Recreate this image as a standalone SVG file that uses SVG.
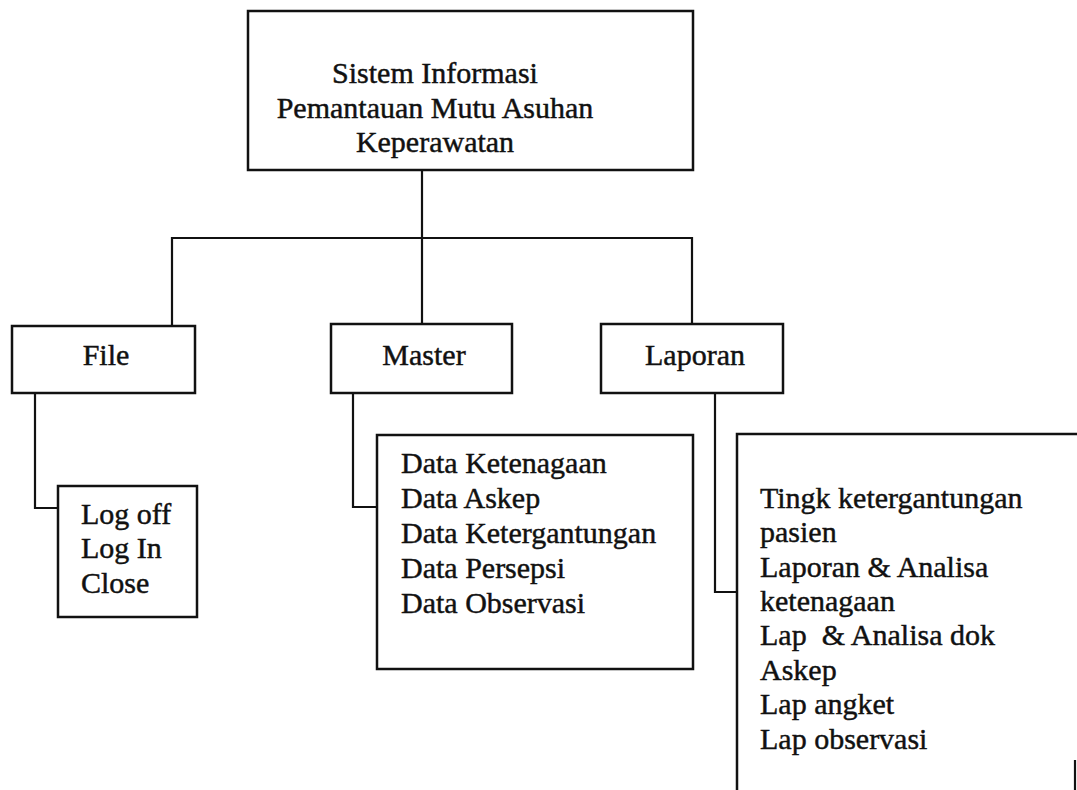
<svg xmlns="http://www.w3.org/2000/svg" width="1077" height="790" viewBox="0 0 1077 790">
  <style>
    .box { fill: none; stroke: #111; stroke-width: 2.5; }
    .wire { fill: none; stroke: #111; stroke-width: 2.2; }
    .lbl { font-family: "Liberation Serif", "Times New Roman", serif; font-size: 30px; fill: #111; stroke: #111; stroke-width: 0.45; }
    .mid { text-anchor: middle; }
  </style>
  <rect width="1077" height="790" fill="#ffffff"/>

  <!-- connectors -->
  <g id="connectors">
    <path class="wire" d="M422,170 V238"/>
    <path class="wire" d="M172,326 V238 H692 V324"/>
    <path class="wire" d="M422,238 V324"/>
    <path class="wire" d="M35,393 V508 H58"/>
    <path class="wire" d="M353,393 V507 H377"/>
    <path class="wire" d="M715,393 V592 H737"/>
  </g>

  <!-- root -->
  <g id="root">
    <rect class="box" x="248" y="11" width="445" height="159"/>
    <text class="lbl mid" x="435" y="83">Sistem Informasi</text>
    <text class="lbl mid" x="435" y="118">Pemantauan Mutu Asuhan</text>
    <text class="lbl mid" x="435" y="152">Keperawatan</text>
  </g>

  <!-- menu level -->
  <g id="file">
    <rect class="box" x="12" y="326" width="183" height="67"/>
    <text class="lbl mid" x="106" y="365">File</text>
  </g>
  <g id="master">
    <rect class="box" x="331" y="324" width="181" height="69"/>
    <text class="lbl mid" x="424" y="365">Master</text>
  </g>
  <g id="laporan">
    <rect class="box" x="601" y="324" width="182" height="69"/>
    <text class="lbl mid" x="695" y="365">Laporan</text>
  </g>

  <!-- sub menus -->
  <g id="file-items">
    <rect class="box" x="58" y="486" width="139" height="131"/>
    <text class="lbl" x="81" y="524">Log off</text>
    <text class="lbl" x="81" y="558">Log In</text>
    <text class="lbl" x="81" y="593">Close</text>
  </g>
  <g id="master-items">
    <rect class="box" x="377" y="435" width="316" height="234"/>
    <text class="lbl" x="401" y="473">Data Ketenagaan</text>
    <text class="lbl" x="401" y="508">Data Askep</text>
    <text class="lbl" x="401" y="543">Data Ketergantungan</text>
    <text class="lbl" x="401" y="578">Data Persepsi</text>
    <text class="lbl" x="401" y="613">Data Observasi</text>
  </g>
  <g id="laporan-items">
    <path class="box" d="M1077,434 H737 V792"/>
    <path class="wire" d="M1075,760 V792" stroke-width="1.2"/>
    <text class="lbl" x="760" y="508">Tingk ketergantungan</text>
    <text class="lbl" x="760" y="542">pasien</text>
    <text class="lbl" x="760" y="577">Laporan &amp; Analisa</text>
    <text class="lbl" x="760" y="611">ketenagaan</text>
    <text class="lbl" x="760" y="645" xml:space="preserve">Lap  &amp; Analisa dok</text>
    <text class="lbl" x="760" y="680">Askep</text>
    <text class="lbl" x="760" y="714">Lap angket</text>
    <text class="lbl" x="760" y="749">Lap observasi</text>
  </g>
</svg>
